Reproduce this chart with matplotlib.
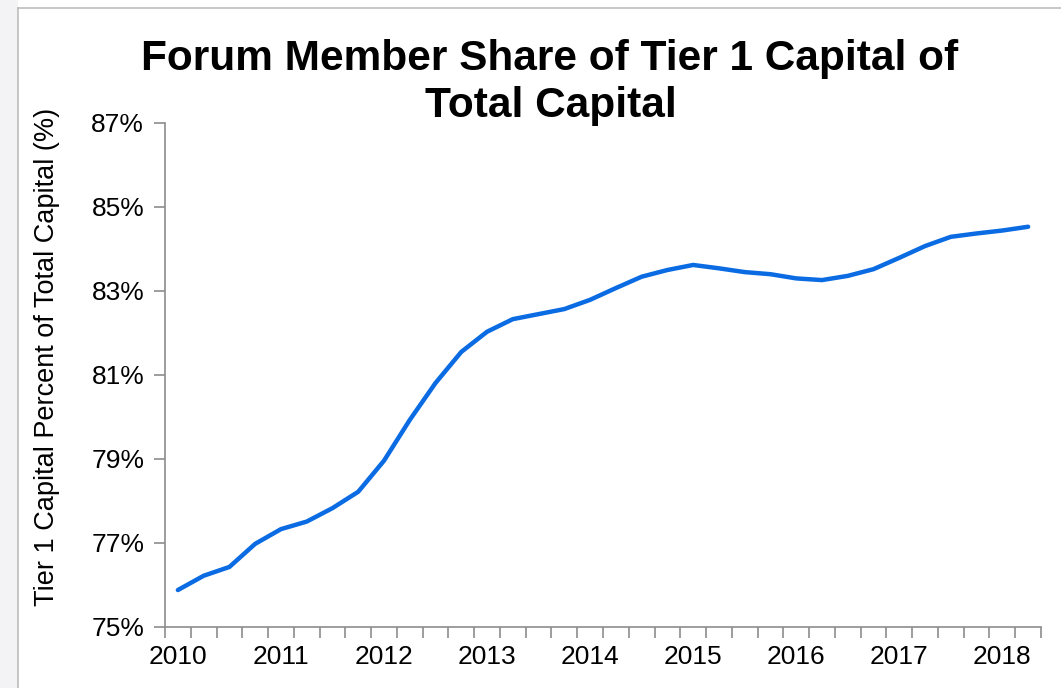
import matplotlib
matplotlib.use("Agg")
import matplotlib.pyplot as plt
from matplotlib.patches import Rectangle
from matplotlib.lines import Line2D

plt.rcParams['font.family'] = ['Liberation Sans', 'DejaVu Sans']

# quarterly values, 2010Q1 .. 2018Q2
quarters = [f"{y}Q{q}" for y in range(2010, 2019) for q in range(1, 5)][:34]
tier1_share = [75.88, 76.22, 76.43, 76.98, 77.33, 77.51, 77.83, 78.22,
               78.96, 79.93, 80.81, 81.55, 82.03, 82.33, 82.45, 82.57,
               82.79, 83.07, 83.34, 83.50, 83.62, 83.54, 83.45, 83.40,
               83.30, 83.26, 83.36, 83.52, 83.79, 84.07, 84.29, 84.37,
               84.44, 84.53]
year_labels = [str(y) for y in range(2010, 2019)]
y_ticks = [75, 77, 79, 81, 83, 85, 87]

W, H = 1061, 688
fig = plt.figure(figsize=(W / 100, H / 100), dpi=100)
ax = fig.add_axes([165 / W, 1 - 627 / H, 876 / W, 504 / H])

# slide-like frame on the left and top
fig.patches.append(Rectangle((0, 0), 18 / W, 1, transform=fig.transFigure,
                             facecolor='#f3f3f5', edgecolor='none', zorder=0))
fig.lines.append(Line2D([18 / W, 18 / W], [0, 1 - 8 / H],
                        transform=fig.transFigure, color='#bdbdbd', lw=1.2))
fig.lines.append(Line2D([18 / W, 1], [1 - 8 / H, 1 - 8 / H],
                        transform=fig.transFigure, color='#bdbdbd', lw=1.2))

x = list(range(len(quarters)))
ax.plot(x, tier1_share, color='#0a6be3', lw=3.2, solid_capstyle='round')

ax.set_xlim(-0.5, len(quarters) - 0.5)
ax.set_ylim(75, 87)
ax.set_yticks(y_ticks)
ax.set_yticklabels([f"{v}%" for v in y_ticks])

# tick marks on category boundaries, year labels under first quarter
ax.set_xticks([i - 0.5 for i in range(len(quarters) + 1)])
ax.set_xticklabels([])
ax.set_xticks(list(range(0, len(quarters), 4)), minor=True)
ax.set_xticklabels(year_labels, minor=True)
ax.tick_params(axis='x', which='major', length=8, color='#8c8c8c', width=1.2)
ax.tick_params(axis='x', which='minor', length=0, labelsize=19, pad=13)
ax.tick_params(axis='y', length=8, color='#8c8c8c', width=1.2, labelsize=19, pad=7)

for s in ['top', 'right']:
    ax.spines[s].set_visible(False)
for s in ['left', 'bottom']:
    ax.spines[s].set_color('#8c8c8c')
    ax.spines[s].set_linewidth(1.2)

fig.text(47 / W, 1 - 357 / H, "Tier 1 Capital Percent of Total Capital (%)",
         rotation=90, ha='center', va='center', fontsize=19.5)

fig.text(550 / W, 1 - 70 / H, "Forum Member Share of Tier 1 Capital of",
         ha='center', va='baseline', fontsize=30.5, fontweight='bold')
fig.text(551 / W, 1 - 117 / H, "Total Capital",
         ha='center', va='baseline', fontsize=30.5, fontweight='bold')

fig.savefig("out.png", dpi=100)
